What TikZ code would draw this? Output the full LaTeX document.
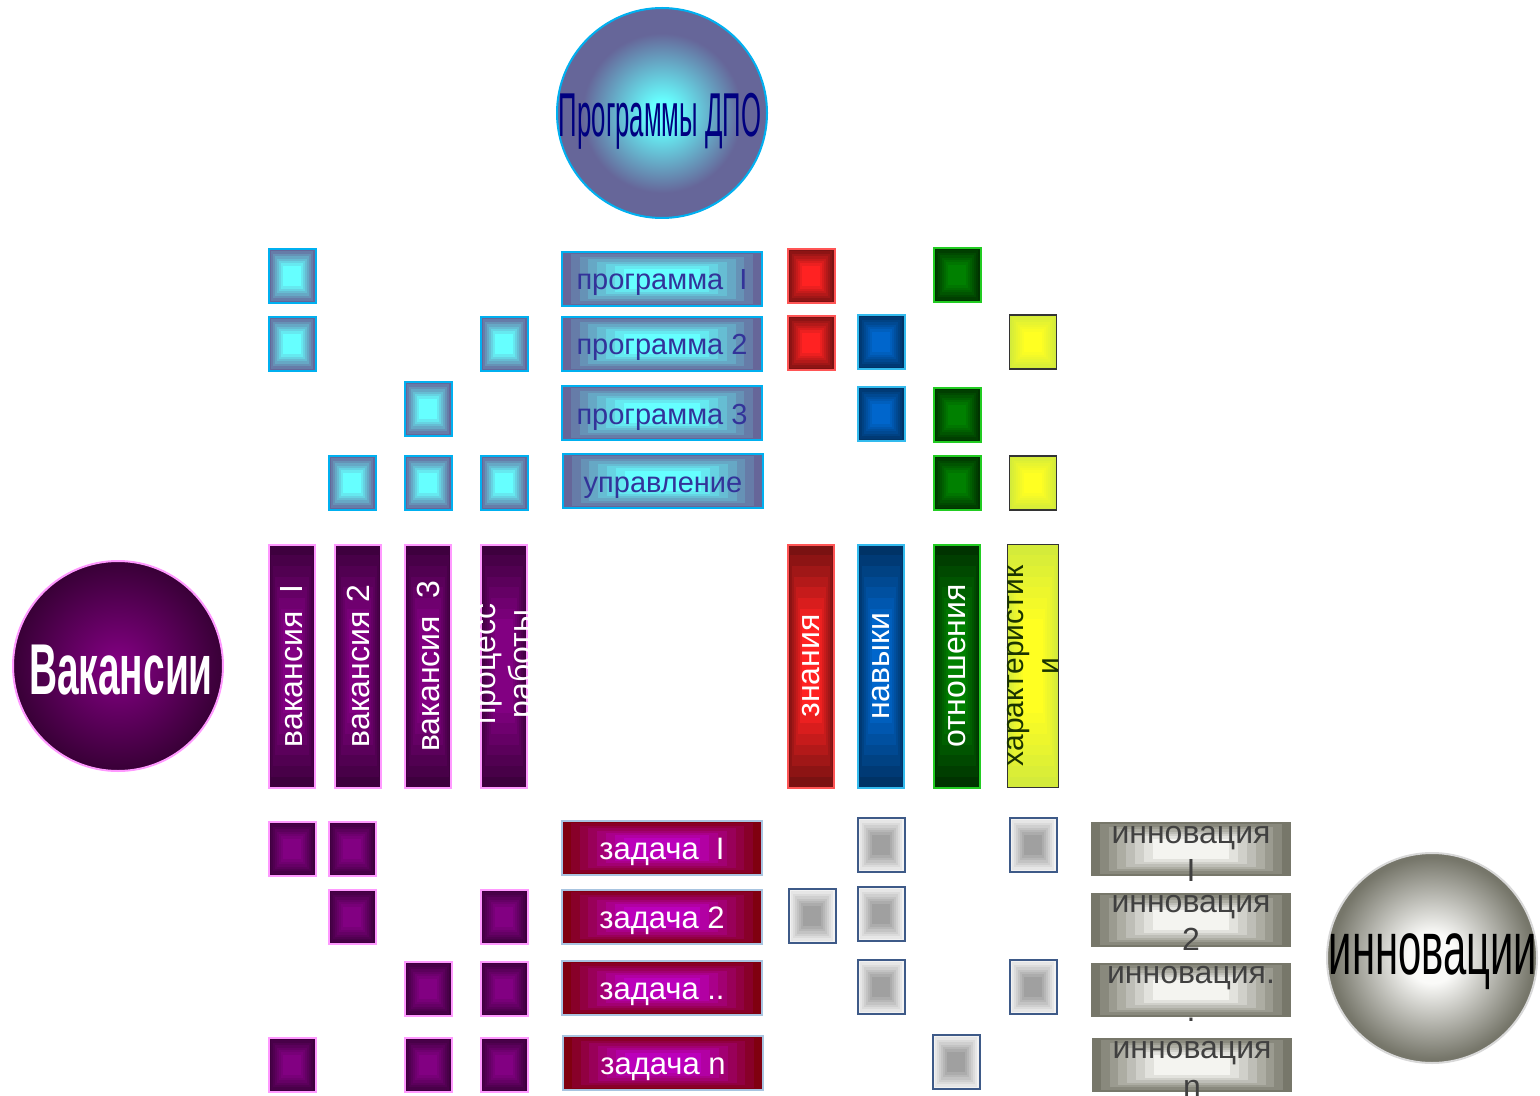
\documentclass[tikz,border=0pt]{standalone}
\usepackage{fontspec}
\setmainfont{Liberation Sans}
\usepackage{graphicx}
\usetikzlibrary{calc}
\definecolor{cyo}{HTML}{666699}
\definecolor{cyi}{HTML}{66FFFF}
\definecolor{cyb}{HTML}{00B0F0}
\definecolor{cyt}{HTML}{333399}
\definecolor{puo}{HTML}{3E003E}
\definecolor{pui}{HTML}{820082}
\definecolor{pub}{HTML}{FF99FF}
\definecolor{rdo}{HTML}{7A1212}
\definecolor{rdi}{HTML}{FF2222}
\definecolor{rdb}{HTML}{FF5555}
\definecolor{blo}{HTML}{003366}
\definecolor{bli}{HTML}{0066CC}
\definecolor{blb}{HTML}{33BBEE}
\definecolor{gro}{HTML}{003300}
\definecolor{gri}{HTML}{008000}
\definecolor{grb}{HTML}{22CC22}
\definecolor{yeo}{HTML}{D4EB3A}
\definecolor{yei}{HTML}{FFFF22}
\definecolor{yeb}{HTML}{333333}
\definecolor{yet}{HTML}{1A3300}
\definecolor{zdo}{HTML}{800010}
\definecolor{zdi}{HTML}{BB00BB}
\definecolor{zdb}{HTML}{A8C4E0}
\definecolor{gyo}{HTML}{F2F2F2}
\definecolor{gyi}{HTML}{A0A0A0}
\definecolor{gyb}{HTML}{3E5A88}
\definecolor{ino}{HTML}{77776A}
\definecolor{ini}{HTML}{F4F4F0}
\definecolor{inntxt}{HTML}{404040}
\definecolor{dpot}{HTML}{000080}
\definecolor{inb}{HTML}{D8D8D8}
\definecolor{vko}{HTML}{380036}
\definecolor{vki}{HTML}{850085}
\definecolor{ibo}{HTML}{76766A}
\definecolor{ibi}{HTML}{FAFAF8}
\pgfdeclareradialshading{dposh}{\pgfpointorigin}{color(0bp)=(cyi); color(3bp)=(cyi); color(19bp)=(cyo); color(25bp)=(cyo); color(50bp)=(cyo)}
\pgfdeclareradialshading{vaksh}{\pgfpointorigin}{color(0bp)=(vki); color(25bp)=(vko); color(50bp)=(vko)}
\pgfdeclareradialshading{innsh}{\pgfpointorigin}{color(0bp)=(ibi); color(6bp)=(ibi); color(24bp)=(ibo); color(25bp)=(ibo); color(50bp)=(ibo)}
\tikzset{
  rgrad/.style n args={2}{path picture={
    \foreach \i in {0,...,7}{
      \pgfmathsetmacro\gt{\i*0.044}
      \pgfmathsetmacro\gp{100*\i/7}
      \fill[#2!\gp!#1] ($(path picture bounding box.south west)!\gt!(path picture bounding box.north east)$) rectangle ($(path picture bounding box.north east)!\gt!(path picture bounding box.south west)$);
    }}},
  sq/.style={draw, line width=1pt, minimum width=23.5pt, minimum height=27pt, inner sep=0pt},
  csq/.style={sq, draw=cyb, rgrad={cyo}{cyi}},
  psq/.style={sq, draw=pub, rgrad={puo}{pui}},
  rsq/.style={sq, draw=rdb, rgrad={rdo}{rdi}},
  bsq/.style={sq, draw=blb, rgrad={blo}{bli}},
  gsq/.style={sq, draw=grb, rgrad={gro}{gri}},
  ysq/.style={sq, draw=yeb, line width=0.8pt, rgrad={yeo}{yei}},
  wsq/.style={sq, draw=gyb, rgrad={gyo}{gyi}},
  bx/.style={minimum width=100pt, minimum height=27pt, inner sep=0pt, text height=11pt, text depth=0pt},
  pbox/.style={bx, draw=cyb, line width=1pt, rgrad={cyo}{cyi}, text=cyt, font=\fontsize{14.5pt}{16pt}\selectfont},
  zbox/.style={bx, draw=zdb, line width=0.6pt, rgrad={zdo}{zdi}, text=white, font=\fontsize{15.5pt}{17pt}\selectfont},
  ibox/.style={bx, rgrad={ino}{ini}},
  itext/.style={anchor=base, inner sep=0pt, text=inntxt, font=\fontsize{16pt}{18pt}\selectfont},
  bar/.style={rotate=90, minimum width=121.5pt, minimum height=23pt, inner sep=0pt, line width=1pt, align=center, font=\fontsize{16pt}{18pt}\selectfont},
  vbar/.style={bar, draw=pub, rgrad={puo}{pui}, text=white},
  ball/.style={circle, minimum size=105pt, inner sep=0pt, line width=1pt},
}
\begin{document}
\begin{tikzpicture}[x=0.5pt,y=-0.5pt]
\useasboundingbox (0,0) rectangle (1540,1096);

% circles
\node[ball, draw=cyb, shading=dposh, shade] (dpo) at (662,113) {};
\node[text=dpot, inner sep=0pt, font=\fontsize{31pt}{32pt}\selectfont] (dpot) at (660,121) {\scalebox{0.415}[1]{Программы ДПО}};
\node[ball, draw=pub, shading=vaksh, shade] (vak) at (118,666) {};
\node[text=white, inner sep=0pt, font=\fontsize{36pt}{37pt}\selectfont\bfseries] (vakt) at (121,670) {\scalebox{0.54}[1]{Вакансии}};
\node[ball, draw=inb, shading=innsh, shade] (inn) at (1432,958) {};
\node[text=black, inner sep=0pt, font=\fontsize{38pt}{39pt}\selectfont] (innt) at (1433,962) {\scalebox{0.55}[1]{инновации}};

% cyan squares
\node[csq] (c1) at (292,276) {};
\node[csq] (c2) at (292,344) {};
\node[csq] (c3) at (504,344) {};
\node[csq] (c4) at (428,409) {};
\node[csq] (c5) at (352,483) {};
\node[csq] (c6) at (428,483) {};
\node[csq] (c7) at (504,483) {};

% programme boxes
\node[pbox] (p1) at (662,279) {программа~~I};
\node[pbox] (p2) at (662,344) {программа 2};
\node[pbox] (p3) at (662,413) {программа 3};
\node[pbox] (p4) at (663,481) {управление};

% coloured squares, top
\node[rsq] (r1) at (811,276) {};
\node[rsq] (r2) at (811,343) {};
\node[bsq] (b1) at (881,342) {};
\node[bsq] (b2) at (881,414) {};
\node[gsq] (g1) at (957,275) {};
\node[gsq] (g2) at (957,415) {};
\node[gsq] (g3) at (957,483) {};
\node[ysq] (y1) at (1033,342) {};
\node[ysq] (y2) at (1033,483) {};

% vacancy bars
\node[vbar] (v1) at (292,666) {вакансия~~I};
\node[vbar] (v2) at (358,666) {вакансия 2};
\node[vbar] (v3) at (428,666) {вакансия~~3};
\node[vbar] (v4) at (504,666) {};
\begin{scope}
\clip (479,540) rectangle (531,790);
\node[rotate=90, text=white, align=center, inner sep=0pt, font=\fontsize{16pt}{18pt}\selectfont] (v4t) at (508,664) {процесс\\работы};
\end{scope}

% quality bars
\node[bar, draw=rdb, rgrad={rdo}{rdi}, text=white] (kn) at (811,666) {знания};
\node[bar, draw=blb, rgrad={blo}{bli}, text=white] (sk) at (881,666) {навыки};
\node[bar, draw=grb, rgrad={gro}{gri}, text=white] (at) at (957,666) {отношения};
\node[bar, draw=yeb, line width=0.8pt, rgrad={yeo}{yei}, text=yet, font=\fontsize{15pt}{17.5pt}\selectfont] (ch) at (1033,666) {характеристик\\и};

% purple squares, bottom
\node[psq] (q1) at (292,849) {};
\node[psq] (q2) at (352,849) {};
\node[psq] (q3) at (352,917) {};
\node[psq] (q4) at (504,917) {};
\node[psq] (q5) at (428,989) {};
\node[psq] (q6) at (504,989) {};
\node[psq] (q7) at (292,1065) {};
\node[psq] (q8) at (428,1065) {};
\node[psq] (q9) at (504,1065) {};

% task boxes
\node[zbox] (z1) at (662,848) {задача~~I};
\node[zbox] (z2) at (662,917) {задача 2};
\node[zbox] (z3) at (662,988) {задача ..};
\node[zbox] (z4) at (663,1063) {задача n};

% grey squares
\node[wsq] (w1) at (881,845) {};
\node[wsq] (w2) at (1033,845) {};
\node[wsq] (w3) at (812,916) {};
\node[wsq] (w4) at (881,914) {};
\node[wsq] (w5) at (881,987) {};
\node[wsq] (w6) at (1033,987) {};
\node[wsq] (w7) at (956,1062) {};

% innovation boxes
\node[ibox] (i1) at (1191,849) {};
\node[ibox] (i2) at (1191,920) {};
\node[ibox] (i3) at (1191,990) {};
\node[ibox] (i4) at (1192,1065) {};
\node[itext] (i1a) at (1191,843) {инновация};
\node[itext] (i1b) at (1191,881) {I};
\node[itext] (i2a) at (1191,912) {инновация};
\node[itext] (i2b) at (1191,950) {2};
\node[itext] (i3a) at (1191,983) {инновация.};
\node[itext] (i3b) at (1191,1021) {.};
\node[itext] (i4a) at (1192,1058) {инновация};
\node[itext] (i4b) at (1192,1097) {n};
\end{tikzpicture}
\end{document}
